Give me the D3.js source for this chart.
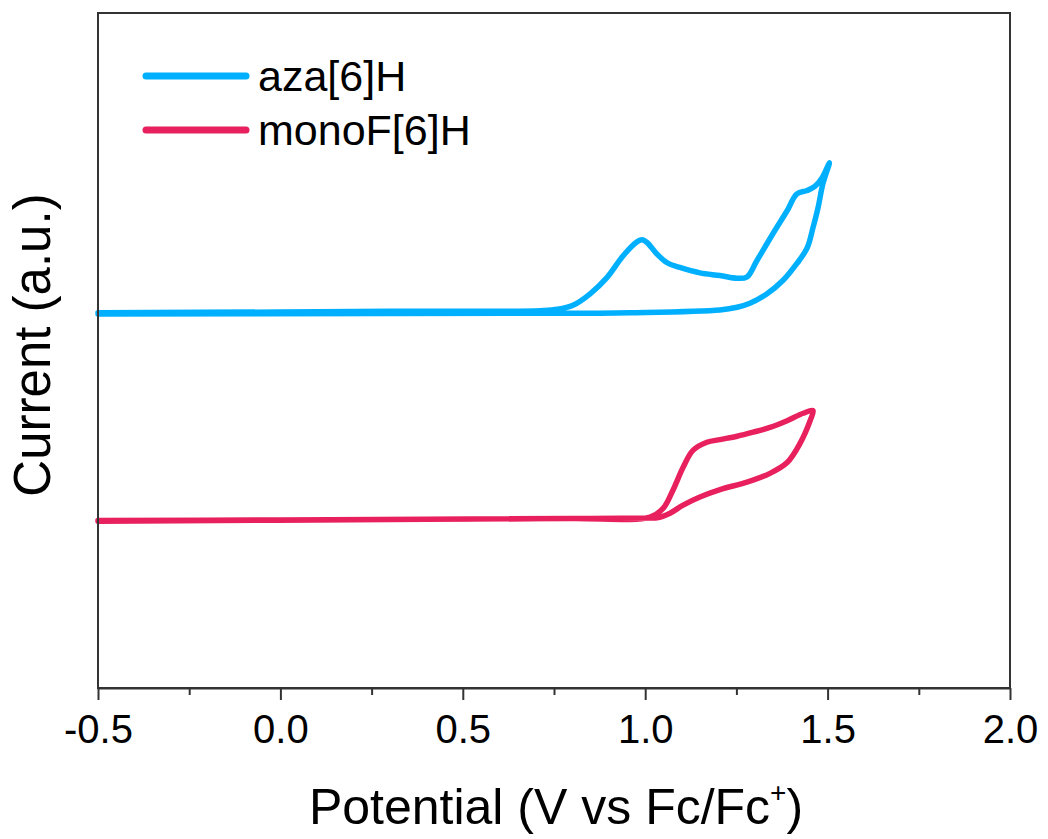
<!DOCTYPE html>
<html>
<head>
<meta charset="utf-8">
<script src="https://cdn.jsdelivr.net/npm/d3@7"></script>
<style>
  html, body { margin: 0; padding: 0; background: #fff; }
  svg { display: block; font-family: "Liberation Sans", Arial, sans-serif; }
</style>
</head>
<body>
<svg id="chart" width="1048" height="839"></svg>
<script>
// Cyclic voltammograms (potential in V vs Fc/Fc+, current in arbitrary units, offset per trace)
const seriesNames = ["aza[6]H", "monoF[6]H"];
const seriesColors = ["#00b0ff", "#e8215e"];

// aza[6]H: anodic sweep then return sweep
const azaPotential = [-0.5, 0.0, 0.30, 0.60, 0.712, 0.76, 0.802, 0.849, 0.895, 0.939, 0.975, 0.991, 1.005, 1.032, 1.060, 1.095, 1.150, 1.205, 1.252, 1.279, 1.306, 1.350, 1.389, 1.416, 1.444, 1.465, 1.485, 1.505,
                      1.487, 1.474, 1.460, 1.444, 1.416, 1.378, 1.334, 1.287, 1.252, 1.205, 0.958, 0.712, 0.30, -0.5];
const azaCurrent   = [5.56, 5.57, 5.58, 5.58, 5.59, 5.61, 5.67, 5.84, 6.08, 6.40, 6.60, 6.64, 6.60, 6.43, 6.30, 6.23, 6.15, 6.11, 6.07, 6.09, 6.33, 6.73, 7.07, 7.32, 7.37, 7.43, 7.56, 7.78,
                      7.47, 7.12, 6.82, 6.52, 6.29, 6.04, 5.84, 5.70, 5.64, 5.60, 5.56, 5.55, 5.55, 5.54];

// monoF[6]H: anodic sweep then return sweep
const monoPotential = [-0.5, 0.0, 0.40, 0.80, 1.013, 1.049, 1.076, 1.104, 1.131, 1.169, 1.205, 1.252, 1.296, 1.342, 1.389, 1.433, 1.460,
                       1.452, 1.424, 1.389, 1.342, 1.279, 1.205, 1.150, 1.104, 1.068, 1.032, 1.013, 0.80, 0.40, -0.5];
const monoCurrent   = [2.48, 2.49, 2.50, 2.51, 2.53, 2.66, 2.93, 3.27, 3.52, 3.64, 3.68, 3.73, 3.79, 3.86, 3.96, 4.07, 4.11,
                       3.96, 3.62, 3.34, 3.18, 3.05, 2.94, 2.83, 2.71, 2.59, 2.52, 2.52, 2.51, 2.50, 2.47];

const xTicks = [-0.5, 0.0, 0.5, 1.0, 1.5, 2.0];
const xMinorTicks = [-0.25, 0.25, 0.75, 1.25, 1.75];

const svg = d3.select("#chart");
const margin = { left: 98, right: 38, top: 13, bottom: 151 };
const W = 1048, H = 839;

const x = d3.scaleLinear().domain([-0.5, 2.0]).range([margin.left, W - margin.right]);
const y = d3.scaleLinear().domain([0, 10]).range([H - margin.bottom, margin.top]);

const traces = [
  { name: seriesNames[0], color: seriesColors[0], pts: azaPotential.map((v, i) => [v, azaCurrent[i]]) },
  { name: seriesNames[1], color: seriesColors[1], pts: monoPotential.map((v, i) => [v, monoCurrent[i]]) }
];

const line = d3.line()
  .x(d => x(d[0]))
  .y(d => y(d[1]))
  .curve(d3.curveCatmullRom.alpha(0.5));

const plot = svg.append("g");
plot.selectAll("path.trace")
  .data(traces)
  .join("path")
  .attr("class", "trace")
  .attr("d", d => line(d.pts))
  .attr("fill", "none")
  .attr("stroke", d => d.color)
  .attr("stroke-width", 5.5)
  .attr("stroke-linejoin", "round")
  .attr("stroke-linecap", "round");

// Frame
const frameColor = "#333";
svg.append("rect")
  .attr("x", x.range()[0]).attr("y", y.range()[1])
  .attr("width", x.range()[1] - x.range()[0])
  .attr("height", y.range()[0] - y.range()[1])
  .attr("fill", "none").attr("stroke", frameColor).attr("stroke-width", 2);

// Bottom axis: major ticks with labels, minor ticks without
const xAxis = d3.axisBottom(x)
  .tickValues(xTicks)
  .tickFormat(d3.format(".1f"))
  .tickSize(12)
  .tickSizeOuter(0);
const gx = svg.append("g")
  .attr("transform", `translate(0,${y.range()[0]})`)
  .call(xAxis);
gx.select(".domain").attr("stroke", frameColor).attr("stroke-width", 2);
gx.selectAll(".tick line").attr("stroke", frameColor).attr("stroke-width", 2);
gx.selectAll(".tick text")
  .attr("font-size", 40)
  .attr("font-family", "'Liberation Sans', Arial, sans-serif")
  .attr("fill", "#000")
  .attr("dy", 0)
  .attr("y", 55)
  .text(d => d3.format(".1f")(d).replace("−", "-"));

const gxm = svg.append("g")
  .attr("transform", `translate(0,${y.range()[0]})`)
  .call(d3.axisBottom(x).tickValues(xMinorTicks).tickFormat("").tickSize(7).tickSizeOuter(0));
gxm.select(".domain").remove();
gxm.selectAll(".tick line").attr("stroke", frameColor).attr("stroke-width", 2);

// Axis titles
const xt = svg.append("text")
  .attr("x", 556)
  .attr("y", 824)
  .attr("text-anchor", "middle")
  .attr("font-size", 50)
  .attr("fill", "#000");
xt.append("tspan").text("Potential (V vs Fc/Fc");
xt.append("tspan").attr("font-size", 28).attr("dy", -22).text("+");
xt.append("tspan").attr("dy", 22).text(")");

svg.append("text")
  .attr("transform", `translate(50,345) rotate(-90)`)
  .attr("text-anchor", "middle")
  .attr("font-size", 51)
  .attr("fill", "#000")
  .text("Current (a.u.)");

// Legend
const legend = svg.append("g");
const legendRows = legend.selectAll("g")
  .data(traces)
  .join("g")
  .attr("transform", (d, i) => `translate(146,${76 + i * 54})`);
legendRows.append("line")
  .attr("x1", 0).attr("x2", 100)
  .attr("stroke", d => d.color)
  .attr("stroke-width", 7)
  .attr("stroke-linecap", "round");
legendRows.append("text")
  .attr("x", 112)
  .attr("y", 15)
  .attr("font-size", 43)
  .attr("fill", "#000")
  .text(d => d.name);
</script>
</body>
</html>
